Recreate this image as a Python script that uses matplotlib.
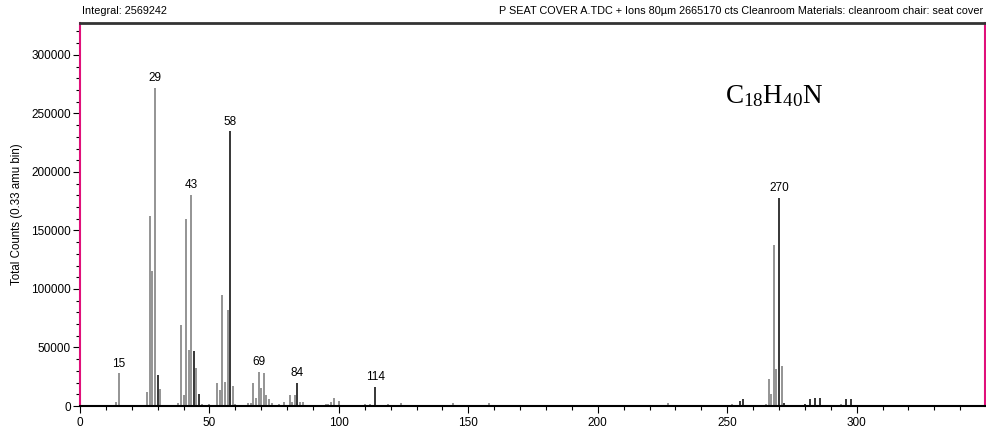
import matplotlib.pyplot as plt
from matplotlib.ticker import MultipleLocator

# main peaks (m/z, total counts)
peak_mz = [14, 15, 26, 27, 28, 29, 30, 31, 38, 39, 40, 41, 42, 43, 44, 45, 46, 47,
           50, 51, 53, 54, 55, 56, 57, 58, 59, 60, 65, 66, 67, 68, 69, 70, 71, 72,
           73, 74, 77, 79, 81, 82, 83, 84, 85, 86, 91, 95, 96, 97, 98, 100, 110,
           112, 114, 115, 119, 124, 144, 158, 227, 252, 255, 256, 265, 266, 267,
           268, 269, 270, 271, 272, 280, 282, 284, 286, 294, 296, 298]
peak_counts = [3700, 28000, 12300, 162000, 115000, 272000, 26300, 14300, 2800,
               69500, 9400, 159600, 48000, 180400, 47000, 32300, 10000, 2000,
               2000, 1200, 19500, 13700, 95000, 20600, 81800, 234800, 17200, 2000,
               2200, 2200, 19500, 6600, 29200, 15400, 28000, 9200, 6000, 2500,
               2000, 3700, 9400, 3700, 9400, 20000, 3500, 3000, 1200, 2000, 2000,
               3700, 6600, 4000, 1500, 1500, 16600, 1200, 1500, 2500, 2500, 2500,
               2500, 1500, 4300, 6300, 2000, 23000, 10500, 137500, 31800, 178000,
               34400, 2500, 2000, 5800, 6600, 6600, 2000, 6000, 6000]
# low-level background counts
noise_mz = [5, 9, 12, 18, 21, 23, 33, 35, 48, 62, 63, 76, 88, 92, 102, 105, 107,
            117, 121, 128, 131, 135, 140, 147, 152, 163, 170, 177, 183, 190, 197,
            203, 208, 213, 220, 232, 238, 244, 249, 258, 262, 276, 288, 303, 309,
            315, 321, 327, 333, 339, 345]
noise_counts = [600, 500, 700, 800, 900, 600, 900, 700, 800, 900, 700, 900, 800,
                700, 900, 800, 700, 900, 800, 1000, 700, 800, 1100, 700, 900, 800,
                1000, 700, 800, 900, 700, 800, 900, 700, 800, 700, 900, 800, 700,
                1000, 800, 900, 700, 800, 700, 900, 700, 800, 700, 800, 600]

labels = [15, 29, 43, 58, 69, 84, 114, 270]
dark = {30, 44, 46, 58, 84, 114, 255, 256, 270, 272, 280, 282, 284, 286, 296, 298}

plt.rcParams['font.family'] = ['Liberation Sans', 'DejaVu Sans']
fig = plt.figure(figsize=(9.87, 4.28), dpi=100)
ax = fig.add_axes([0.081, 0.0514, 0.917, 0.8942])

ax.vlines(noise_mz, 0, noise_counts, colors='black', linewidth=1.0)
cols = ['black' if m in dark else '#777777' for m in peak_mz]
ax.vlines(peak_mz, 0, peak_counts, colors=cols, linewidth=1.1)

for m, c in zip(peak_mz, peak_counts):
    if m in labels:
        ax.text(m, c + 3000, str(m), ha='center', va='bottom', fontsize=8.5)

ax.set_xlim(0, 349.6)
ax.set_ylim(0, 327000)
ax.xaxis.set_major_locator(MultipleLocator(50))
ax.xaxis.set_minor_locator(MultipleLocator(10))
ax.yaxis.set_major_locator(MultipleLocator(50000))
ax.yaxis.set_minor_locator(MultipleLocator(10000))
ax.tick_params(which='both', direction='out', labelsize=8.5, width=0.8)
ax.tick_params(which='major', length=5, pad=1.5)
ax.tick_params(which='minor', length=3)
ax.tick_params(axis='x', which='major', pad=3)

for s in ['left', 'right']:
    ax.spines[s].set_color('#e0107a')
    ax.spines[s].set_linewidth(1.5)
ax.spines['top'].set_linewidth(2)
ax.spines['top'].set_color('#333333')
ax.spines['bottom'].set_linewidth(1.5)

ax.set_ylabel('Total Counts (0.33 amu bin)', fontsize=8.3)
ax.yaxis.set_label_coords(-0.063, 0.5)

fig.text(0.083, 0.975, 'Integral: 2569242', fontsize=7.8, ha='left', va='center')
fig.text(0.996, 0.975,
         'P SEAT COVER A.TDC + Ions 80\u00b5m 2665170 cts Cleanroom Materials: cleanroom chair: seat cover',
         fontsize=7.8, ha='right', va='center')

ax.text(0.713, 0.791, r'$\mathregular{C_{18}H_{40}N}$', transform=ax.transAxes,
        fontsize=19.5, family='Liberation Serif', ha='left', va='baseline')

fig.savefig('out.png', dpi=100)
